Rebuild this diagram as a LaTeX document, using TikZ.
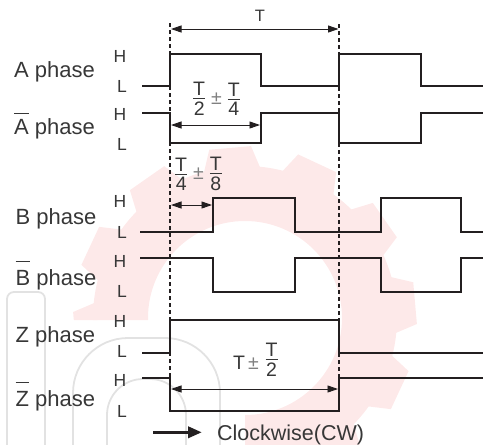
\documentclass[tikz,border=0pt]{standalone}
\usepackage{fontspec}
\setmainfont{Liberation Sans}
\usetikzlibrary{arrows.meta}
\definecolor{sig}{RGB}{35,31,32}
\definecolor{txt}{RGB}{55,55,55}
\definecolor{wmpink}{RGB}{253,233,233}
\definecolor{wmgrey}{RGB}{226,226,226}
\newcommand{\barred}[2]{\leavevmode\vbox{\hrule height 1.3pt\vskip #1\hbox{#2}}}
\newcommand{\fr}[2]{\ensuremath{\vcenter{\offinterlineskip\halign{\hfil##\hfil\cr #1\cr\noalign{\kern2.5pt\hrule height 0.9pt\kern2.5pt}#2\cr}}}}
\newcommand{\pmg}{\ensuremath{\vcenter{\hbox{\color{gray}±}}}}
\begin{document}
\begin{tikzpicture}[x=1pt,y=-1pt,
  signal/.style={draw=sig,line width=2.2pt,line join=miter},
  guide/.style={draw=sig,line width=1.2pt,dash pattern=on 4pt off 3pt},
  dim/.style={draw=sig,line width=0.9pt,{Triangle[length=10.5pt,width=7pt]}-{Triangle[length=10.5pt,width=7pt]}},
  phaselbl/.style={anchor=base west,inner sep=0pt,text=txt,font=\fontsize{22}{24}\selectfont},
  hl/.style={anchor=base west,inner sep=0pt,text=txt,font=\fontsize{17.5}{19}\selectfont},
  dimlbl/.style={inner sep=0pt,text=txt,font=\fontsize{19.5}{21}\selectfont},
  wmline/.style={draw=wmgrey,line width=1.8pt}]
\useasboundingbox (0,0) rectangle (483,445);
% watermark
\begin{scope}
  \clip (0,0) -- (483,0) -- (483,445) -- (245,445) -- (245,320) -- (0,320) -- cycle;
  \fill[wmpink,even odd rule] (245,318) circle[radius=152] (245,318) circle[radius=97];
  \foreach \a in {95,125,...,425} {
    \fill[wmpink,shift={(245,318)}] ({-\a-11}:150) -- ({-\a-7}:172) -- ({-\a+7}:172) -- ({-\a+11}:150) -- cycle;
  }
\end{scope}
\draw[wmline,rounded corners=7pt] (7,470) -- (7,292) -- (45,292) -- (45,470);
\draw[wmline,rounded corners=55pt] (73,480) -- (73,338) -- (220,338) -- (220,480);
\draw[wmline,rounded corners=36pt] (107,480) -- (107,379) -- (186,379) -- (186,480);
% guides
\coordinate (g1t) at (170,23); \coordinate (g1b) at (170,411);
\coordinate (g2t) at (339,24); \coordinate (g2b) at (339,411);
\draw[guide] (g1t) -- (g1b);
\draw[guide] (g2t) -- (g2b);
% signals
\draw[signal] (142,86) -- (170,86) -- (170,54) -- (261,54) -- (261,86) -- (339,86) -- (339,54) -- (421,54) -- (421,86) -- (483,86);
\draw[signal] (142,113) -- (170,113) -- (170,143) -- (261,143) -- (261,113) -- (339,113) -- (339,143) -- (421,143) -- (421,113) -- (483,113);
\draw[signal] (140,232) -- (213,232) -- (213,198) -- (295,198) -- (295,232) -- (381,232) -- (381,198) -- (461,198) -- (461,232) -- (483,232);
\draw[signal] (140,258) -- (213,258) -- (213,292) -- (295,292) -- (295,258) -- (381,258) -- (381,292) -- (461,292) -- (461,258) -- (483,258);
\draw[signal] (142,353) -- (170,353) -- (170,320) -- (339,320) -- (339,353) -- (483,353);
\draw[signal] (142,378) -- (170,378) -- (170,411) -- (339,411) -- (339,378) -- (483,378);
% phase labels
\node[phaselbl] (la) at (14,77) {A phase};
\node[phaselbl] (lab) at (14,134) {\barred{4.5pt}{A} phase};
\node[phaselbl] (lb) at (15.5,224) {B phase};
\node[phaselbl] (lbb) at (15.5,285.5) {\barred{8pt}{B} phase};
\node[phaselbl] (lz) at (15.5,342.5) {Z phase};
\node[phaselbl] (lzb) at (15.5,406.5) {\barred{8pt}{Z} phase};
% H / L
\node[hl] (ah) at (113.5,62) {H};   \node[hl] (al) at (116.8,92) {L};
\node[hl] (abh) at (113.5,120) {H}; \node[hl] (abl) at (116.8,150) {L};
\node[hl] (bh) at (113.5,207.5) {H};  \node[hl] (bl) at (116.8,238) {L};
\node[hl] (bbh) at (113.5,267) {H}; \node[hl] (bbl) at (116.8,297) {L};
\node[hl] (zh) at (113.5,327) {H};  \node[hl] (zl) at (116.8,357.5) {L};
\node[hl] (zbh) at (113.5,386.5) {H}; \node[hl] (zbl) at (116.8,417) {L};
% dimensions
\coordinate (d1a) at (171,29);  \coordinate (d1b) at (338.5,29);
\coordinate (d2a) at (171,125); \coordinate (d2b) at (260,125);
\coordinate (d3a) at (171,205); \coordinate (d3b) at (212,205);
\coordinate (d4a) at (171,389); \coordinate (d4b) at (338,389);
\draw[dim] (d1a) -- (d1b);
\draw[dim] (d2a) -- (d2b);
\draw[dim] (d3a) -- (d3b);
\draw[dim] (d4a) -- (d4b);
\node[anchor=base,inner sep=0pt,text=txt,font=\fontsize{16.5}{18}\selectfont] (tT) at (260,21) {T};
\node[dimlbl] (f1) at (216.5,99) {\fr{T}{2}\kern6pt\pmg\kern6pt\fr{T}{4}};
\node[dimlbl] (f2) at (198.5,174) {\fr{T}{4}\kern6pt\pmg\kern6pt\fr{T}{8}};
\node[dimlbl,anchor=base west] (f3a) at (233,369) {T\kern3pt{\color{gray}±}};
\node[dimlbl,anchor=west] (f3b) at (265.5,360) {\fr{T}{2}};
% direction
\coordinate (cw1) at (153,432.3);
\node[anchor=base west,inner sep=0pt,text=txt,font=\fontsize{21.5}{24}\selectfont] (cw) at (217,440) {Clockwise(CW)};
\coordinate (cw2) at (202,432.3);
\draw[draw=sig,line width=3.5pt,-{Triangle[length=14pt,width=11pt]}] (cw1) -- (cw2);
\end{tikzpicture}
\end{document}
